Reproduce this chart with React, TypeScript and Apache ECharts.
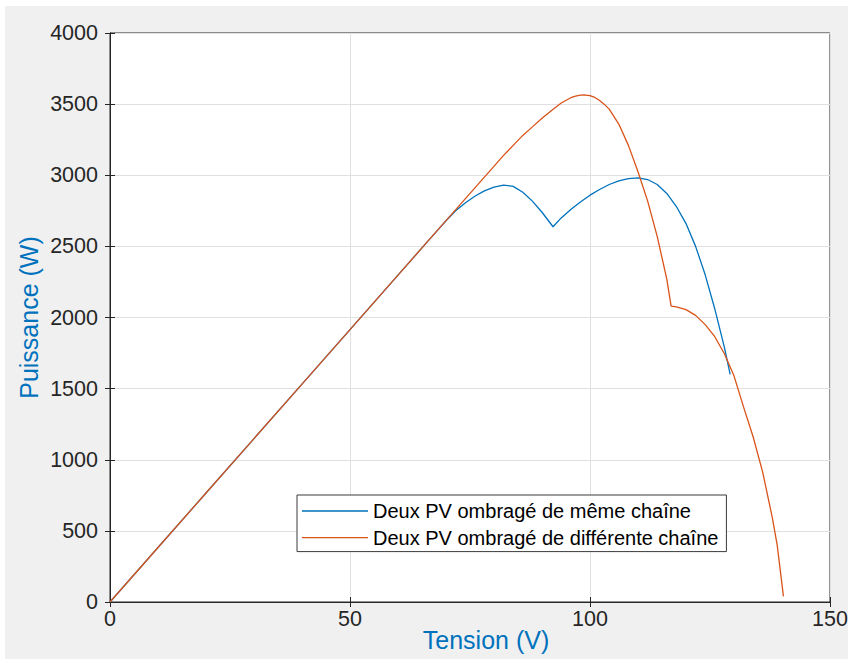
import React, { useEffect, useRef } from "react";
import * as echarts from "echarts";

// Tension (V) / Puissance (W) — deux PV ombragés de la même chaîne
const voltSame = [0, 10, 20, 30, 40, 50, 60, 66, 68, 70, 72, 74, 76, 78, 80, 82, 84, 86, 88, 90, 92.3, 94, 96, 98, 100, 102, 104, 106, 108, 110, 112, 114, 116, 118, 120, 122, 124, 126, 128, 129.2];
const powerSame = [0, 383, 766, 1149, 1532, 1915, 2298, 2528, 2604, 2680, 2750, 2805, 2852, 2890, 2917, 2931, 2922, 2880, 2818, 2740, 2638, 2700, 2760, 2812, 2860, 2900, 2935, 2960, 2976, 2982, 2970, 2935, 2872, 2780, 2660, 2500, 2300, 2060, 1790, 1600];

// Deux PV ombragés de différentes chaînes
const voltDiff = [0, 10, 20, 30, 40, 50, 60, 66, 70, 74, 78, 82, 84, 86, 88, 90, 92, 94, 96, 97, 98, 99, 100, 101, 102, 103, 104, 106, 108, 110, 112, 114, 116, 116.9, 118, 120, 122, 124, 126, 128, 130, 132, 134, 136, 138, 139, 140.3];
const powerDiff = [0, 383, 766, 1149, 1532, 1915, 2298, 2528, 2681, 2834, 2987, 3140, 3210, 3280, 3340, 3400, 3455, 3508, 3545, 3556, 3563, 3564, 3560, 3547, 3525, 3498, 3465, 3360, 3210, 3025, 2820, 2570, 2270, 2080, 2075, 2055, 2015, 1950, 1865, 1745, 1590, 1370, 1160, 910, 590, 400, 40];

const xTicks = { min: 0, max: 150, interval: 50 };
const yTicks = { min: 0, max: 4000, interval: 500 };

const seriesNames = ["Deux PV ombragé de même chaîne", "Deux PV ombragé de différente chaîne"];
const seriesColors = ["#0072BD", "#D95319"];

const FONT = "'Liberation Sans', Arial, Helvetica, sans-serif";
const AXIS = "#262626";

export default function App() {
  const ref = useRef<HTMLDivElement>(null);
  useEffect(() => {
    if (!ref.current) return;
    const chart = echarts.init(ref.current, undefined, { renderer: "svg" });
    const sameData = voltSame.map((v, i) => [v, powerSame[i]]);
    const diffData = voltDiff.map((v, i) => [v, powerDiff[i]]);
    const tickCommon = {
      axisLine: { show: true, lineStyle: { color: AXIS, width: 1 } },
      axisTick: { show: true, inside: true, length: 5, lineStyle: { color: AXIS } },
    };
    const plain = (v: number) => String(v);
    chart.setOption({
      animation: false,
      backgroundColor: "transparent",
      textStyle: { fontFamily: FONT },
      grid: {
        left: 110,
        top: 33,
        right: 18,
        bottom: 57,
        show: true,
        backgroundColor: "#ffffff",
        borderColor: AXIS,
        borderWidth: 1,
        containLabel: false,
        outerBoundsMode: "none",
      },
      legend: {
        data: seriesNames,
        orient: "vertical",
        left: 297,
        top: 495,
        backgroundColor: "#ffffff",
        borderColor: "#3a3a3a",
        borderWidth: 1,
        borderRadius: 0,
        padding: [5, 8, 3, 5],
        icon: "rect",
        itemWidth: 66,
        itemHeight: 1.4,
        itemGap: 4.6,
        textStyle: { fontSize: 20, color: "#000", fontFamily: FONT, lineHeight: 22 },
      },
      xAxis: [
        {
          type: "value",
          position: "bottom",
          ...xTicks,
          ...tickCommon,
          axisLabel: { color: AXIS, fontSize: 21.5, fontFamily: FONT, margin: 6, formatter: plain },
          splitLine: { show: true, lineStyle: { color: "#e0e0e0", width: 1 } },
          name: "Tension (V)",
          nameLocation: "middle",
          nameGap: 25,
          nameMoveOverlap: false,
          nameTextStyle: { color: "#0072BD", fontSize: 25, fontFamily: FONT, padding: [0, 0, 0, 32] },
        },
        {
          type: "value",
          position: "top",
          ...xTicks,
          ...tickCommon,
          axisLabel: { show: false },
          splitLine: { show: false },
        },
      ],
      yAxis: [
        {
          type: "value",
          position: "left",
          ...yTicks,
          ...tickCommon,
          axisLabel: { color: AXIS, fontSize: 21.5, fontFamily: FONT, margin: 12, formatter: plain },
          splitLine: { show: true, lineStyle: { color: "#e0e0e0", width: 1 } },
          name: "Puissance (W)",
          nameLocation: "middle",
          nameGap: 69,
          nameMoveOverlap: false,
          nameTextStyle: { color: "#0072BD", fontSize: 25, fontFamily: FONT },
        },
        {
          type: "value",
          position: "right",
          ...yTicks,
          ...tickCommon,
          axisLabel: { show: false },
          splitLine: { show: false },
        },
      ],
      series: [
        {
          name: seriesNames[0],
          type: "line",
          xAxisIndex: 0,
          yAxisIndex: 0,
          data: sameData,
          showSymbol: false,
          symbol: "none",
          color: seriesColors[0],
          lineStyle: { color: seriesColors[0], width: 1.3 },
          z: 2,
        },
        {
          name: seriesNames[1],
          type: "line",
          xAxisIndex: 0,
          yAxisIndex: 0,
          data: diffData,
          showSymbol: false,
          symbol: "none",
          color: seriesColors[1],
          lineStyle: { color: seriesColors[1], width: 1.3 },
          z: 3,
        },
      ],
    });
    return () => chart.dispose();
  }, []);

  return (
    <div style={{ position: "fixed", left: 0, top: 0, width: 848, height: 659, background: "#ffffff" }}>
      <div style={{ position: "absolute", left: 5, top: 6, right: 0, bottom: 0, background: "#f0f0f0" }} />
      <div ref={ref} style={{ position: "absolute", left: 0, top: 0, width: 848, height: 659 }} />
    </div>
  );
}
